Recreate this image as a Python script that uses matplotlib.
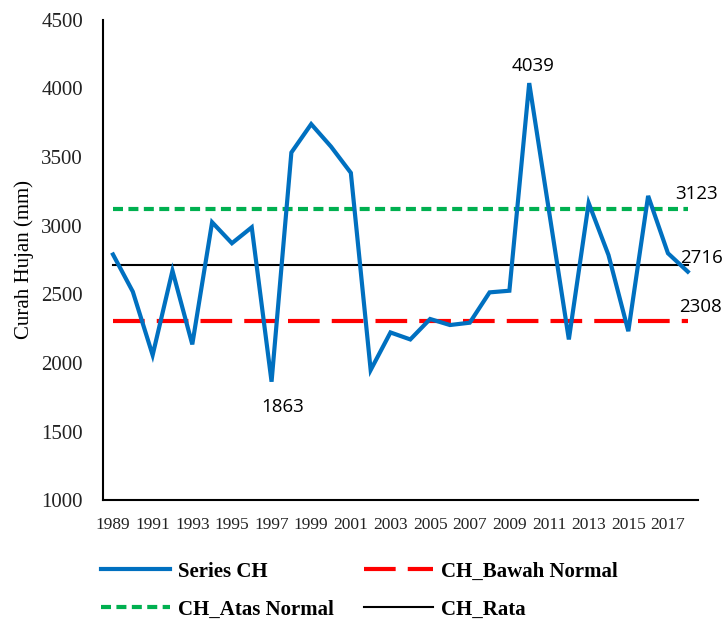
import numpy as np
import matplotlib
matplotlib.use('Agg')
import matplotlib.pyplot as plt

# Data
years = list(range(1989, 2019))
curah_hujan = [2790, 2519, 2057, 2672, 2135, 3025, 2872, 2988, 1863, 3533,
               3740, 3576, 3385, 1948, 2222, 2171, 2320, 2276, 2293, 2514,
               2526, 4039, 3105, 2171, 3165, 2786, 2231, 3217, 2799, 2665]
ch_atas = 3123
ch_rata = 2716
ch_bawah = 2308

x = np.arange(len(years))

fig = plt.figure(figsize=(7.26, 6.19), dpi=100)
ax = fig.add_axes([0.142, 0.192, 0.819, 0.776])

ax.plot(x, curah_hujan, color='#0070C0', lw=3, solid_joinstyle='miter', label='Series CH', zorder=5)
ax.plot(x, [ch_atas] * len(x), color='#00B050', lw=3, dashes=(2.4, 1.3),
        dash_capstyle='butt', label='CH_Atas Normal', zorder=3)
ax.plot(x, [ch_bawah] * len(x), color='#FF0000', lw=3, dashes=(7.6, 2.9),
        dash_capstyle='butt', label='CH_Bawah Normal', zorder=3)
ax.plot(x, [ch_rata] * len(x), color='black', lw=1.5, label='CH_Rata', zorder=4)

# value labels
lab_font = dict(family='Open Sans', fontsize=13.5, color='black')
i_max = int(np.argmax(curah_hujan))
i_min = int(np.argmin(curah_hujan))
ax.annotate(str(curah_hujan[i_max]), (x[i_max], curah_hujan[i_max]), xytext=(3, 6),
            textcoords='offset points', ha='center', va='bottom', **lab_font)
ax.annotate(str(curah_hujan[i_min]), (x[i_min], curah_hujan[i_min]), xytext=(8, -12),
            textcoords='offset points', ha='center', va='top', **lab_font)
ax.annotate(str(ch_atas), (x[-1], ch_atas), xytext=(6, 11),
            textcoords='offset points', ha='center', va='center', **lab_font)
ax.annotate(str(ch_rata), (x[-1], ch_rata), xytext=(10, 5),
            textcoords='offset points', ha='center', va='center', **lab_font)
ax.annotate(str(ch_bawah), (x[-1], ch_bawah), xytext=(9, 10),
            textcoords='offset points', ha='center', va='center', **lab_font)

ax.set_xlim(-0.5, len(x) - 0.5)
ax.set_ylim(1000, 4500)
ax.set_yticks(np.arange(1000, 4501, 500))
ax.set_xticks(x[::2])
ax.set_xticklabels([str(y) for y in years[::2]])

for s in ['top', 'right']:
    ax.spines[s].set_visible(False)
for s in ['left', 'bottom']:
    ax.spines[s].set_linewidth(1.5)
    ax.spines[s].set_color('black')

ax.tick_params(axis='both', length=0)
ax.tick_params(axis='y', pad=14.5)
ax.tick_params(axis='x', pad=12)
for t in ax.get_yticklabels():
    t.set_family('Liberation Serif')
    t.set_fontsize(15)
    t.set_color('#222222')
for t in ax.get_xticklabels():
    t.set_family('Liberation Serif')
    t.set_fontsize(12.5)
    t.set_color('#222222')

ax.set_ylabel('Curah Hujan (mm)', family='Liberation Serif', fontsize=15, labelpad=5)

handles, labels = ax.get_legend_handles_labels()
fig.legend(handles, labels, ncol=2, loc='lower left', bbox_to_anchor=(0.113, -0.031),
           frameon=False, handlelength=3.3, columnspacing=1.45, handletextpad=0.4,
           labelspacing=0.85, prop={'family': 'Liberation Serif', 'weight': 'bold', 'size': 15})

fig.savefig('out.png', dpi=100)
